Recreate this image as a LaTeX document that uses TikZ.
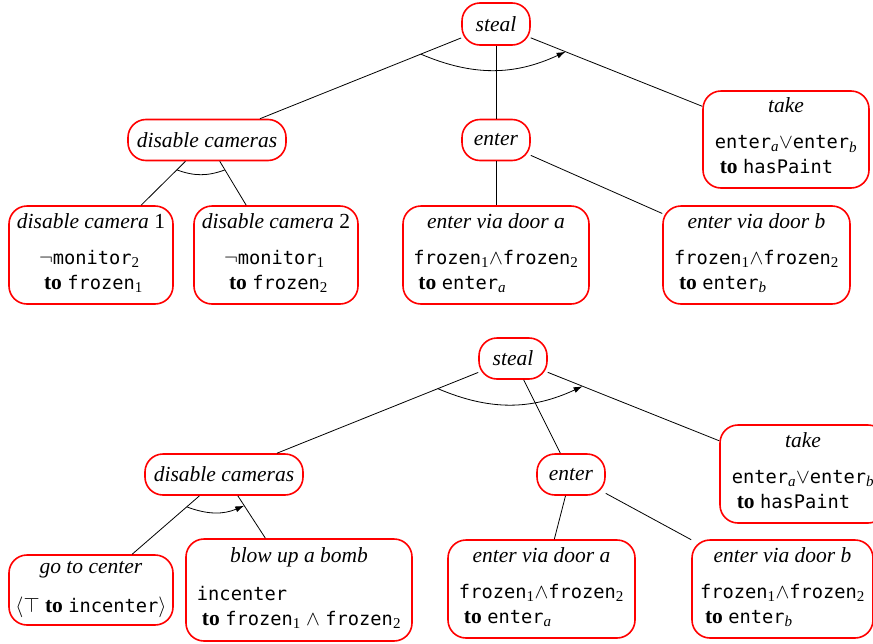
\documentclass[tikz,border=0pt]{standalone}
\usepackage{fontspec}
\setmainfont{Liberation Serif}
\setmonofont{DejaVu Sans Mono}[Scale=0.87]
\usetikzlibrary{calc,arrows.meta}
\newcommand\sub[1]{\textsubscript{\rmfamily #1}}
\newcommand\ttl[1]{\textit{#1}}
\newcommand\bodytab[2]{\begin{tabular}[t]{@{}l@{}}#1\\\hspace{5pt}#2\end{tabular}}
\tikzset{
  box/.style={draw=red, line width=1.6pt, rounded corners=18pt, inner sep=0pt,
    align=center, font=\fontsize{21.5}{25}\selectfont},
  edge/.style={line width=0.8pt},
  arc/.style={line width=0.8pt},
  arcarrow/.style={line width=0.8pt, -{Latex[length=9pt,width=6pt]}}
}
\begin{document}
\begin{tikzpicture}[x=1pt,y=1pt]
\clip (0,0) rectangle (873,-643);
% ---------- top tree ----------
\node[box, minimum width=68, minimum height=42] (steal1) at (496,-24) {\ttl{steal}};
\node[box, minimum width=158, minimum height=41] (dcs1) at (207,-140) {\ttl{disable cameras}};
\node[box, minimum width=68, minimum height=41] (enter1) at (496,-140) {\ttl{enter}};
\node[box, minimum width=166, minimum height=97] (take1) at (786,-139.5)
  {\ttl{take}\\[11pt]\bodytab{\texttt{enter}\sub{\textit{a}}$\vee$\texttt{enter}\sub{\textit{b}}}{\textbf{to} \texttt{hasPaint}}};
\node[box, minimum width=164, minimum height=98] (dc1) at (91,-255)
  {\ttl{disable camera} 1\\[11pt]\bodytab{$\neg$\texttt{monitor}\sub{2}}{\textbf{to} \texttt{frozen}\sub{1}}};
\node[box, minimum width=164, minimum height=98] (dc2) at (276,-255)
  {\ttl{disable camera} 2\\[11pt]\bodytab{$\neg$\texttt{monitor}\sub{1}}{\textbf{to} \texttt{frozen}\sub{2}}};
\node[box, minimum width=186, minimum height=98] (doora1) at (496,-255)
  {\ttl{enter via door a}\\[11pt]\bodytab{\texttt{frozen}\sub{1}$\wedge$\texttt{frozen}\sub{2}}{\textbf{to} \texttt{enter}\sub{\textit{a}}}};
\node[box, minimum width=187, minimum height=98] (doorb1) at (756.5,-255)
  {\ttl{enter via door b}\\[11pt]\bodytab{\texttt{frozen}\sub{1}$\wedge$\texttt{frozen}\sub{2}}{\textbf{to} \texttt{enter}\sub{\textit{b}}}};
\draw[edge] (steal1) -- (dcs1);
\draw[edge] (steal1) -- (enter1);
\draw[edge] (steal1) -- (take1);
\draw[edge] (dcs1) -- (dc1);
\draw[edge] (dcs1) -- (dc2);
\draw[edge] (enter1) -- (doora1);
\draw[edge] (enter1) -- (doorb1);
\draw[arcarrow] ($(steal1)!0.26!(dcs1)$) to[bend right=24] ($(steal1)!0.24!(take1)$);
\draw[arc] ($(dcs1)!0.26!(dc1)$) to[bend right=20] ($(dcs1)!0.26!(dc2)$);
% ---------- bottom tree ----------
\node[box, minimum width=68, minimum height=41] (steal2) at (513,-358.5) {\ttl{steal}};
\node[box, minimum width=158, minimum height=41] (dcs2) at (224,-474.5) {\ttl{disable cameras}};
\node[box, minimum width=68, minimum height=41] (enter2) at (571,-474.5) {\ttl{enter}};
\node[box, minimum width=166, minimum height=98] (take2) at (803,-474)
  {\ttl{take}\\[11pt]\bodytab{\texttt{enter}\sub{\textit{a}}$\vee$\texttt{enter}\sub{\textit{b}}}{\textbf{to} \texttt{hasPaint}}};
\node[box, minimum width=164, minimum height=70] (go) at (91,-590)
  {\ttl{go to center}\\[14pt]$\langle\top$ \textbf{to} \texttt{incenter}$\rangle$};
\node[box, minimum width=226, minimum height=102] (blow) at (299,-590)
  {\ttl{blow up a bomb}\\[13pt]\bodytab{\texttt{incenter}}{\textbf{to} \texttt{frozen}\sub{1} $\wedge$ \texttt{frozen}\sub{2}}};
\node[box, minimum width=187, minimum height=98] (doora2) at (541.5,-589)
  {\ttl{enter via door a}\\[11pt]\bodytab{\texttt{frozen}\sub{1}$\wedge$\texttt{frozen}\sub{2}}{\textbf{to} \texttt{enter}\sub{\textit{a}}}};
\node[box, minimum width=181, minimum height=98] (doorb2) at (782.5,-589)
  {\ttl{enter via door b}\\[11pt]\bodytab{\texttt{frozen}\sub{1}$\wedge$\texttt{frozen}\sub{2}}{\textbf{to} \texttt{enter}\sub{\textit{b}}}};
\draw[edge] (steal2) -- (dcs2);
\draw[edge] (steal2) -- (enter2);
\draw[edge] (steal2) -- (take2);
\draw[edge] (dcs2) -- (go);
\draw[edge] (dcs2) -- (blow);
\draw[edge] (enter2) -- (doora2);
\draw[edge] (enter2) -- (doorb2);
\draw[arcarrow] ($(steal2)!0.26!(dcs2)$) to[bend right=24] ($(steal2)!0.24!(take2)$);
\draw[arcarrow] ($(dcs2)!0.28!(go)$) to[bend right=22] ($(dcs2)!0.27!(blow)$);
\end{tikzpicture}
\end{document}
